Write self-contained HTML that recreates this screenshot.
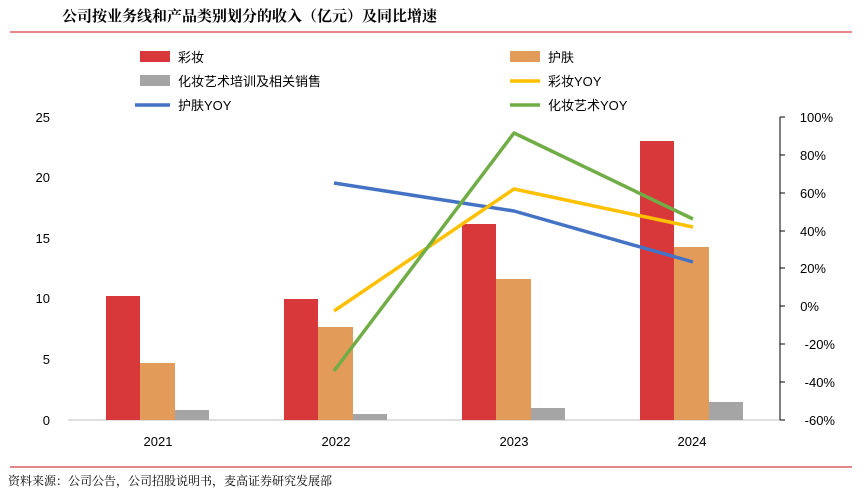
<!DOCTYPE html><html><head><meta charset="utf-8"><style>body{margin:0;background:#fff}</style></head><body>
<svg width="866" height="499" xmlns="http://www.w3.org/2000/svg" font-family="Liberation Sans, Noto Sans CJK SC, sans-serif">
<text x="62" y="21" font-size="15" font-weight="bold" font-family="Noto Serif CJK SC, serif" fill="#000">公司按业务线和产品类别划分的收入（亿元）及同比增速</text>
<line x1="10" y1="32" x2="852" y2="32" stroke="#e06060" stroke-width="1.5"/>
<line x1="10" y1="467" x2="852" y2="467" stroke="#d04040" stroke-width="1.2"/>
<text x="8" y="485" font-size="12" font-family="Noto Serif CJK SC, serif" fill="#000">资料来源：公司公告，公司招股说明书，麦高证券研究发展部</text>
<!-- legend -->
<rect x="140" y="51" width="30" height="11" fill="#d9383a"/><text x="178" y="62" font-size="13">彩妆</text>
<rect x="510" y="51" width="30" height="11" fill="#e39b5a"/><text x="548" y="62" font-size="13">护肤</text>
<rect x="140" y="75" width="30" height="11" fill="#a5a5a5"/><text x="178" y="86" font-size="13">化妆艺术培训及相关销售</text>
<line x1="510" y1="81" x2="540" y2="81" stroke="#ffc000" stroke-width="3.5"/><text x="548" y="86" font-size="13">彩妆YOY</text>
<line x1="135" y1="105" x2="170" y2="105" stroke="#4472c4" stroke-width="3.5"/><text x="178" y="110" font-size="13">护肤YOY</text>
<line x1="510" y1="105" x2="540" y2="105" stroke="#70ad47" stroke-width="3.5"/><text x="548" y="110" font-size="13">化妆艺术YOY</text>
<!-- axes -->
<line x1="68" y1="420" x2="780" y2="420" stroke="#bfbfbf"/>
<line x1="780" y1="117" x2="780" y2="420" stroke="#000"/>
<g font-size="13" fill="#000" text-anchor="end">
<text x="50" y="425">0</text><text x="50" y="364">5</text><text x="50" y="303">10</text><text x="50" y="243">15</text><text x="50" y="182">20</text><text x="50" y="122">25</text>
</g>
<g stroke="#000"><line x1="780" y1="117" x2="785" y2="117"/><line x1="780" y1="155" x2="785" y2="155"/><line x1="780" y1="193" x2="785" y2="193"/><line x1="780" y1="231" x2="785" y2="231"/><line x1="780" y1="268" x2="785" y2="268"/><line x1="780" y1="306" x2="785" y2="306"/><line x1="780" y1="344" x2="785" y2="344"/><line x1="780" y1="382" x2="785" y2="382"/><line x1="780" y1="420" x2="785" y2="420"/></g>
<g font-size="13" fill="#000" text-anchor="end">
<text x="833" y="122">100%</text><text x="826" y="160">80%</text><text x="826" y="198">60%</text><text x="826" y="236">40%</text><text x="826" y="273">20%</text><text x="819" y="311">0%</text><text x="835" y="349">-20%</text><text x="835" y="387">-40%</text><text x="835" y="425">-60%</text>
</g>
<g font-size="13" text-anchor="middle"><text x="158" y="446">2021</text><text x="336" y="446">2022</text><text x="514" y="446">2023</text><text x="692" y="446">2024</text></g>
<!-- bars -->
<g fill="#d9383a"><rect x="106" y="296" width="34" height="124"/><rect x="284" y="299" width="34" height="121"/><rect x="462" y="224" width="34" height="196"/><rect x="640" y="141" width="34" height="279"/></g>
<g fill="#e39b5a"><rect x="140" y="363" width="35" height="57"/><rect x="318" y="327" width="35" height="93"/><rect x="496" y="279" width="35" height="141"/><rect x="674" y="247" width="35" height="173"/></g>
<g fill="#a5a5a5"><rect x="175" y="410" width="34" height="10"/><rect x="353" y="414" width="34" height="6"/><rect x="531" y="408" width="34" height="12"/><rect x="709" y="402" width="34" height="18"/></g>
<!-- lines -->
<g fill="none" stroke-width="3.5" stroke-linejoin="round">
<polyline points="334,183 514,211 693,262" stroke="#4472c4"/>
<polyline points="334,311 514,189 693,227" stroke="#ffc000"/>
<polyline points="334,371 514,133 693,219" stroke="#70ad47"/>
</g>
</svg></body></html>
